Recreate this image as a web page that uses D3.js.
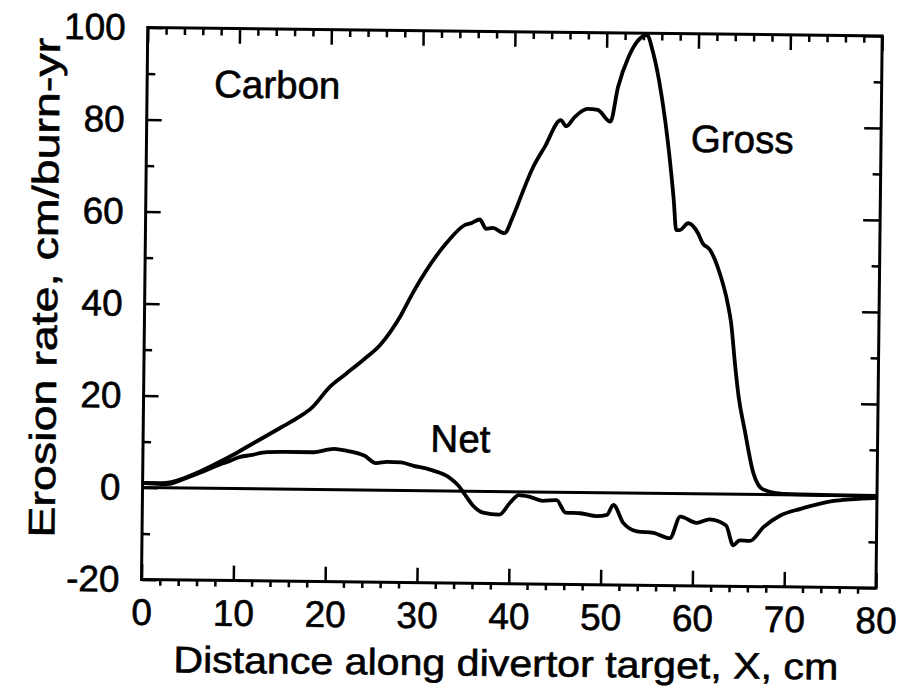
<!DOCTYPE html>
<html><head><meta charset="utf-8">
<script src="https://cdn.jsdelivr.net/npm/d3@7"></script>
<style>body{margin:0;background:#fff}</style>
</head><body>
<svg id="chart" width="899" height="698"></svg>
<script>
// ---- data ----
const xMajorTicks = [0,10,20,30,40,50,60,70,80];
const xMinorTicks = [2,4,6,8,12,14,16,18,22,24,26,28,32,34,36,38,42,44,46,48,52,54,56,58,62,64,66,68,72,74,76,78];
const yMajorTicks = [-20,0,20,40,60,80,100];
const yMinorTicks = [-10,10,30,50,70,90];
const xTickLabels = ["0","10","20","30","40","50","60","70","80"];
const yTickLabels = ["-20","0","20","40","60","80","100"];

const grossX = [0,2,3,4,6.3,8,9.8,11.5,13.3,15,17,18.3,20.3,22,24,25.7,27.9,29.2,32.8,34.8,35.5,36.4,37.1,37.8,39.1,40.0,41.0,42.0,43.4,45.1,45.7,46.6,48.0,49.1,50.5,51.3,52.4,53.5,54.4,55.0,56.0,56.9,57.5,57.8,58.2,59.1,60.2,60.7,61.5,62.6,63.5,63.9,64.4,64.8,65.5,66.5,67.6,69.8,75,80];
const grossY = [1.0,1.0,1.2,1.8,3.7,5.4,7.3,9.3,11.4,13.4,15.8,17.7,22.4,25.2,28.5,31.6,38,43,53.9,57.9,58.3,59.1,57.1,57.3,56.2,59.8,65.0,70.0,75.1,80.9,79.6,81.6,83.4,83.2,80.7,88.3,94.8,98.6,99.6,96.3,87.0,74.6,63.8,57.3,57.3,58.8,56.6,54.5,53.1,48.0,41.5,37.2,27.8,21.3,14.1,4.7,1.1,0.2,0.05,0];

const netX = [0,2,3,4,6.3,8.4,9.2,10.6,11.7,13.5,15.4,18.6,20.1,20.8,22.2,24.1,25.4,26.6,28.1,29.5,31.3,33.5,34.4,35.0,36.1,37.1,38.9,40.0,41.0,42.1,43.6,45.1,46.1,47.7,49.5,50.6,51.3,52.4,53.9,55.7,57.5,58.6,60.4,61.8,63.6,64.4,65.1,66.2,67.7,69.5,71.7,73.5,75.3,77.1,80];
const netY = [1.0,0.8,0.9,1.6,3.4,5.2,5.8,6.9,7.3,8.0,8.1,8.1,8.7,8.9,8.5,7.5,5.9,6.2,6.1,5.4,4.6,2.8,1.2,-0.4,-3.3,-4.6,-5.0,-2.5,-0.7,-1.0,-1.9,-1.7,-4.4,-4.5,-5.1,-4.8,-2.6,-6.5,-8.3,-8.6,-9.7,-5.0,-6.3,-5.5,-6.8,-11.1,-10.0,-10.1,-7.0,-4.5,-3.0,-2.0,-1.2,-0.8,-0.4];

const textLabels = ["Carbon","Gross","Net"];
const textX = [7.3,59.3,31.3];
const textY = [85,74.3,8.5];
const xTitle = "Distance along divertor target, X, cm";
const yTitle = "Erosion rate, cm/burn-yr";

// ---- layout ----
const L = 144.6, R = 879.1, T = 31.75, B = 583.75;
const FONT = "'Liberation Sans', Arial, Helvetica, sans-serif";

const svg = d3.select("#chart");
svg.append("rect").attr("width",899).attr("height",698).attr("fill","#fff");
const g = svg.append("g").attr("transform","rotate(0.65,512,308)");

const x = d3.scaleLinear().domain([0,80]).range([L,R]);
const y = d3.scaleLinear().domain([-20,100]).range([B,T]);

function clean(sel){ sel.select(".domain").remove(); sel.selectAll("line").attr("stroke","#000").attr("stroke-width",2.5); }
function styleText(sel, size){
  sel.attr("font-family",FONT).attr("font-size",size||37).attr("fill","#000")
    .attr("stroke","#000").attr("stroke-width",0.6);
}

// bottom axis: major inward, minor outward
const bx = g.append("g").attr("transform",`translate(0,${B})`)
  .call(d3.axisBottom(x).tickValues(xMajorTicks).tickSize(-15).tickPadding(19)
    .tickFormat((d,i)=>xTickLabels[i]));
clean(bx);
styleText(bx.selectAll("text"));
const bxm = g.append("g").attr("transform",`translate(0,${B})`)
  .call(d3.axisBottom(x).tickValues(xMinorTicks).tickSize(6).tickFormat(""));
clean(bxm);

// top axis
const tx = g.append("g").attr("transform",`translate(0,${T})`)
  .call(d3.axisTop(x).tickValues(xMajorTicks).tickSize(-15).tickFormat(""));
clean(tx);
const txm = g.append("g").attr("transform",`translate(0,${T})`)
  .call(d3.axisTop(x).tickValues(xMinorTicks).tickSize(-7).tickFormat(""));
clean(txm);

// left axis
const ly = g.append("g").attr("transform",`translate(${L},0)`)
  .call(d3.axisLeft(y).tickValues(yMajorTicks).tickSize(-15).tickPadding(22)
    .tickFormat((d,i)=>yTickLabels[i]));
clean(ly);
styleText(ly.selectAll("text"));
const lym = g.append("g").attr("transform",`translate(${L},0)`)
  .call(d3.axisLeft(y).tickValues(yMinorTicks).tickSize(-8).tickFormat(""));
clean(lym);

// right axis
const ry = g.append("g").attr("transform",`translate(${R},0)`)
  .call(d3.axisRight(y).tickValues(yMajorTicks).tickSize(-17).tickFormat(""));
clean(ry);
const rym = g.append("g").attr("transform",`translate(${R},0)`)
  .call(d3.axisRight(y).tickValues(yMinorTicks).tickSize(-8).tickFormat(""));
clean(rym);

// frame
g.append("rect").attr("x",L).attr("y",T).attr("width",R-L).attr("height",B-T)
  .attr("fill","none").attr("stroke","#000").attr("stroke-width",3);

// zero line
g.append("line").attr("x1",x(0)).attr("x2",x(80)).attr("y1",y(0)).attr("y2",y(0))
  .attr("stroke","#000").attr("stroke-width",3);

// curves
const line = d3.line().x(d=>x(d[0])).y(d=>y(d[1])).curve(d3.curveMonotoneX);
const gross = grossX.map((v,i)=>[v,grossY[i]]);
const net = netX.map((v,i)=>[v,netY[i]]);
g.append("path").attr("d",line(gross)).attr("fill","none").attr("stroke","#000")
  .attr("stroke-width",3.8).attr("stroke-linejoin","round");
g.append("path").attr("d",line(net)).attr("fill","none").attr("stroke","#000")
  .attr("stroke-width",3.8).attr("stroke-linejoin","round");

// text labels
textLabels.forEach((t,i)=>{
  styleText(g.append("text").attr("x",x(textX[i])).attr("y",y(textY[i])).text(t), 38.5);
});

// axis titles
styleText(g.append("text").attr("x",(L+R)/2 - 2).attr("y",676).attr("text-anchor","middle")
  .attr("textLength",665).attr("lengthAdjust","spacingAndGlyphs").text(xTitle));
styleText(g.append("text").attr("transform",`translate(57,${293}) rotate(-90)`).attr("text-anchor","middle")
  .attr("textLength",500).attr("lengthAdjust","spacingAndGlyphs").text(yTitle));
</script>
</body></html>
